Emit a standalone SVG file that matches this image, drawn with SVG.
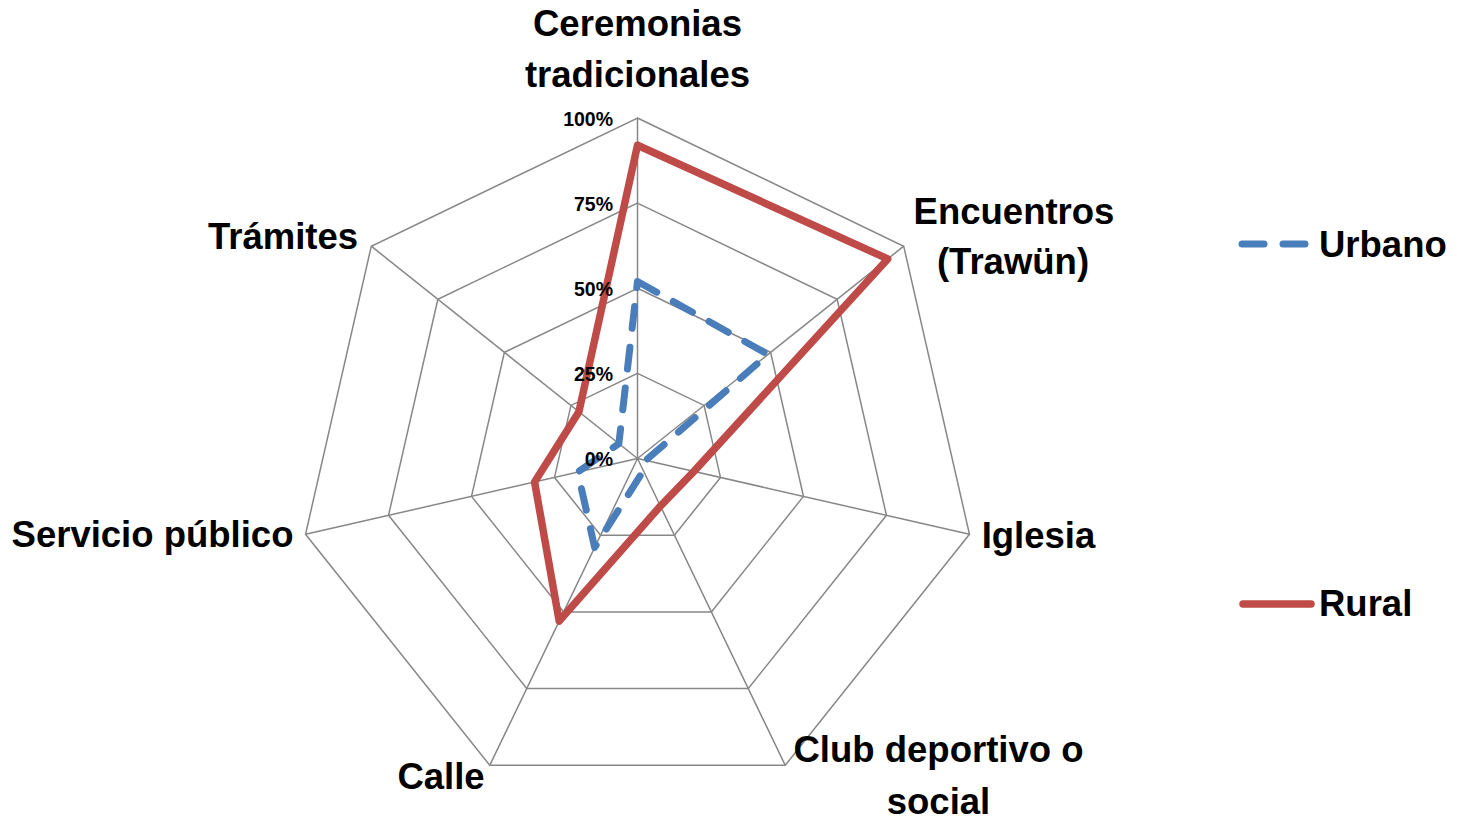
<svg xmlns="http://www.w3.org/2000/svg" width="1458" height="821" viewBox="0 0 1458 821">
<style>
.grid{fill:none;stroke:#878787;stroke-width:1.5}
.lbl{font-family:"Liberation Sans",Arial,sans-serif;font-weight:bold;font-size:36.5px;fill:#000}
.tick{font-family:"Liberation Sans",Arial,sans-serif;font-weight:bold;font-size:19.5px;fill:#000;text-anchor:end}
.urb{fill:none;stroke:#4A7EBB;stroke-width:7;stroke-dasharray:22 19;stroke-linecap:round;stroke-linejoin:round}
.rur{fill:none;stroke:#BE4B48;stroke-width:7.5;stroke-linecap:round;stroke-linejoin:round}
</style>
<rect width="1458" height="821" fill="#fff"/>
<g id="grid">
<polygon class="grid" points="637.5,118 903.71,246.2 969.46,534.27 785.24,765.28 489.76,765.28 305.54,534.27 371.29,246.2"/>
<polygon class="grid" points="637.5,203.13 837.16,299.28 886.47,515.33 748.3,688.59 526.7,688.59 388.53,515.33 437.84,299.28"/>
<polygon class="grid" points="637.5,288.25 770.61,352.35 803.48,496.38 711.37,611.89 563.63,611.89 471.52,496.38 504.39,352.35"/>
<polygon class="grid" points="637.5,373.38 704.05,405.43 720.49,477.44 674.43,535.19 600.57,535.19 554.51,477.44 570.95,405.43"/>
<path class="grid" d="M637.5,458.5L637.5,118M637.5,458.5L903.71,246.2M637.5,458.5L969.46,534.27M637.5,458.5L785.24,765.28M637.5,458.5L489.76,765.28M637.5,458.5L305.54,534.27M637.5,458.5L371.29,246.2"/>
</g>
<g id="series">
<polygon id="urbano" class="urb" points="637.5,281.44 767.95,354.47 645.8,460.39 643.41,470.77 594.66,547.47 577.75,472.14 618.86,443.64"/>
<polygon id="rural" class="rur" points="637.5,145.24 887.74,258.94 693.94,471.38 660.4,506.05 559.2,621.1 534.59,481.99 578.93,411.79"/>
</g>
<g id="ticks">
<text class="tick" x="613" y="126">100%</text>
<text class="tick" x="613" y="211">75%</text>
<text class="tick" x="613" y="296">50%</text>
<text class="tick" x="613" y="381">25%</text>
<text class="tick" x="613" y="466">0%</text>
</g>
<g id="axis-labels">
<text class="lbl" x="637.5" y="36" text-anchor="middle">Ceremonias</text>
<text class="lbl" x="637.5" y="87" text-anchor="middle">tradicionales</text>
<text class="lbl" x="1014" y="224" text-anchor="middle">Encuentros</text>
<text class="lbl" x="1013" y="274" text-anchor="middle">(Trawün)</text>
<text class="lbl" x="1038.5" y="548" text-anchor="middle">Iglesia</text>
<text class="lbl" x="938.5" y="762" text-anchor="middle">Club deportivo o</text>
<text class="lbl" x="938.5" y="814" text-anchor="middle">social</text>
<text class="lbl" x="441" y="789" text-anchor="middle">Calle</text>
<text class="lbl" x="152.5" y="547" text-anchor="middle">Servicio público</text>
<text class="lbl" x="283" y="249" text-anchor="middle">Trámites</text>
</g>
<g id="legend">
<line x1="1242" y1="244" x2="1308" y2="244" class="urb"/>
<text class="lbl" x="1319" y="257">Urbano</text>
<line x1="1243" y1="604" x2="1311" y2="604" class="rur"/>
<text class="lbl" x="1319" y="616">Rural</text>
</g>
</svg>
